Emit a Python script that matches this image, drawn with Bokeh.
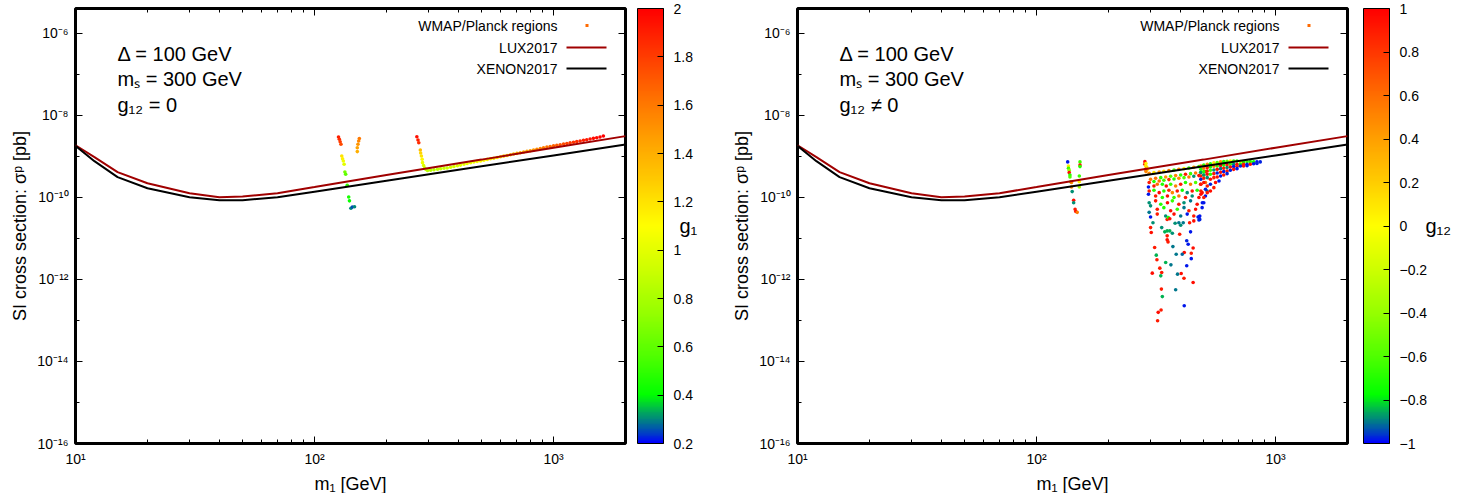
import numpy as np
from bokeh.plotting import figure
from bokeh.models import (Range1d, LogAxis, FixedTicker, CustomJSTickFormatter,
                          LinearColorMapper, ColorBar, Label, Arrow, BoxAnnotation,
                          ColumnDataSource)
from bokeh.layouts import row
from bokeh.embed import file_html
from bokeh.resources import INLINE

FONT = "Liberation Sans"

# ---------------- data ----------------
# exclusion limits
m_lim = [10, 12, 15, 20, 30, 40, 50, 70, 100, 200, 500, 1000, 2000]
lux_sigma = [1.86e-9, 9.5e-10, 4.1e-10, 2.2e-10, 1.26e-10, 1.0e-10, 1.05e-10, 1.26e-10,
             1.78e-10, 3.5e-10, 8.3e-10, 1.62e-9, 3.1e-9]
xenon_sigma = [1.8e-9, 7.6e-10, 3.1e-10, 1.66e-10, 1.0e-10, 8.5e-11, 8.5e-11, 1.0e-10,
               1.37e-10, 2.54e-10, 5.7e-10, 1.05e-9, 1.95e-9]

# left panel (g12 = 0), colour = g1
left_m = [
    126, 127, 128, 129, 130, 131, 132, 133, 134, 135, 137, 139, 140, 142, 144, 147,
    154, 153, 152, 151, 151,
    268, 271, 273, 277, 278, 280, 282, 283, 286, 289, 292,
    297, 306, 316, 327, 337, 348, 359, 371, 383, 396, 408, 422, 435, 450, 464, 479,
    495, 511, 528, 545, 562, 581, 600, 619, 639, 660, 681, 703, 726, 750, 774, 799,
    825, 852, 880, 908, 938, 968, 1000, 1032, 1066, 1101, 1137, 1173, 1212, 1251,
    1292, 1334, 1377, 1422, 1468, 1516, 1565, 1616,
]
left_sigma = [
    2.95e-9, 2.6e-9, 2.26e-9, 1.96e-9, 1.02e-9, 8.7e-10, 7.7e-10, 6.4e-10, 4.15e-10,
    3.65e-10, 1.97e-10, 1.02e-10, 8.2e-11, 5.4e-11, 5.8e-11, 5.9e-11,
    2.7e-9, 2.36e-9, 1.96e-9, 1.62e-9, 1.3e-9,
    3.0e-9, 2.5e-9, 2.14e-9, 1.42e-9, 1.2e-9, 1.02e-9, 8.45e-10, 7.0e-10, 5.97e-10,
    5.2e-10, 4.8e-10,
    4.5e-10, 4.6e-10, 4.7e-10, 4.85e-10, 4.97e-10, 5.1e-10, 5.2e-10, 5.4e-10, 5.65e-10,
    5.9e-10, 6.1e-10, 6.4e-10, 6.7e-10, 7.0e-10, 7.3e-10, 7.5e-10, 7.7e-10, 8.0e-10,
    8.4e-10, 8.7e-10, 9.0e-10, 9.35e-10, 9.7e-10, 1.01e-9, 1.05e-9, 1.09e-9, 1.14e-9,
    1.18e-9, 1.22e-9, 1.27e-9, 1.32e-9, 1.37e-9, 1.42e-9, 1.49e-9, 1.55e-9, 1.62e-9,
    1.68e-9, 1.74e-9, 1.8e-9, 1.86e-9, 1.91e-9, 1.98e-9, 2.05e-9, 2.12e-9, 2.19e-9,
    2.28e-9, 2.36e-9, 2.45e-9, 2.53e-9, 2.64e-9, 2.74e-9, 2.84e-9, 2.95e-9, 3.12e-9,
]
left_g1 = [
    1.9, 1.85, 1.8, 1.75, 1.2, 1.15, 1.05, 1.0, 0.65, 0.6, 0.5, 0.45, 0.42, 0.3, 0.25, 0.3,
    1.6, 1.55, 1.5, 1.45, 1.4,
    1.95, 1.9, 1.85, 1.35, 1.25, 1.2, 1.12, 1.05, 0.98, 0.92, 0.9,
    0.85, 0.86, 0.87, 0.88, 0.9, 0.92, 0.93, 0.95, 0.97, 0.98, 1.0, 1.02, 1.03, 1.05,
    1.07, 1.08, 1.1, 1.12, 1.14, 1.17, 1.2, 1.22, 1.25, 1.27, 1.3, 1.32, 1.35, 1.37,
    1.4, 1.42, 1.45, 1.47, 1.5, 1.53, 1.56, 1.59, 1.62, 1.65, 1.68, 1.7, 1.73, 1.75,
    1.78, 1.8, 1.83, 1.85, 1.88, 1.9, 1.92, 1.94, 1.96, 1.97, 1.99, 2.0,
]

# right panel (g12 != 0), colour = g12
right_m = [
    135, 136, 136, 137, 137, 138, 138, 139, 140, 140, 141, 143, 143, 145, 146, 148, 152, 152, 152, 151, 151, 151,
    284, 284, 286, 287, 289, 291, 286, 287,
    296, 310, 326, 341, 358, 376, 394, 414, 434, 455, 478, 501,
    300, 315, 331, 347, 364, 382, 401, 420, 441, 463, 486, 509,
    296, 310, 326, 341, 358, 376, 394, 414, 434, 455, 478, 501,
    294, 310, 320, 336, 349, 364, 382, 401, 420, 441, 463, 486, 509,
    296, 310, 326, 341, 358, 370, 388, 407, 427, 448, 470, 493, 517,
    294, 315, 336, 353, 376, 394, 420, 448, 478, 509,
    296, 315, 331, 353, 370, 394, 414, 441, 470, 501,
    300, 320, 341, 364, 388, 414, 434, 463, 493,
    296, 320, 347, 376, 401, 427, 455, 478,
    487, 501, 518, 534, 552, 570, 589, 607, 627, 647, 668, 690, 713, 735, 760, 784, 810, 836, 863,
    487, 501, 518, 534, 552, 570, 589, 607, 627, 647, 668, 690, 713, 735, 760, 784, 810, 836,
    487, 501, 518, 534, 552, 570, 589, 607, 627, 647, 668, 690, 713, 735, 760,
    487, 501, 518, 534, 552, 570, 589, 607, 627, 647, 668, 690,
    487, 501, 518, 534, 552, 570, 589, 607, 627,
    487, 501, 518, 534, 561, 580, 487, 509, 534, 552, 487, 501, 494, 518, 482, 482,
    300, 307, 300, 302, 334, 352, 356, 361, 380, 394, 401, 411, 437, 455, 474, 478, 344, 352,
    361, 370, 352, 352, 355, 397, 441, 425, 431, 312, 372, 452, 317, 319, 415, 444, 384, 407,
    444, 347, 365, 425, 328, 305, 334, 331, 389, 403, 414, 452, 333, 382, 336, 415, 332, 323, 321,
]
right_sigma = [
    7.3e-10, 5.8e-10, 5.1e-10, 4.56e-10, 4.0e-10, 3.5e-10, 3.13e-10, 2.4e-10, 2.3e-10, 1.79e-10,
    1.38e-10, 8.5e-11, 7.4e-11, 5.1e-11, 4.5e-11, 4.3e-11, 7.3e-10, 6.1e-10, 5.6e-10, 3.3e-10,
    2.4e-10, 1.79e-10,
    7.4e-10, 6.4e-10, 5.8e-10, 6.7e-10, 5.5e-10, 4.8e-10, 4.8e-10, 4.23e-10,
    3.85e-10, 4.0e-10, 4.15e-10, 4.31e-10, 4.47e-10, 4.65e-10, 4.8e-10, 5.0e-10, 5.2e-10, 5.4e-10, 5.6e-10, 5.8e-10,
    2.75e-10, 2.91e-10, 3.02e-10, 3.13e-10, 3.26e-10, 3.38e-10, 3.51e-10, 3.64e-10, 3.78e-10, 3.93e-10, 4.07e-10, 4.23e-10,
    2.29e-10, 2.42e-10, 2.5e-10, 2.6e-10, 2.7e-10, 2.8e-10, 2.91e-10, 3.02e-10, 3.13e-10, 3.26e-10, 3.38e-10, 3.51e-10,
    1.79e-10, 1.89e-10, 2.08e-10, 2.08e-10, 1.89e-10, 2.08e-10, 1.89e-10, 2.08e-10, 2.29e-10, 2.08e-10, 2.29e-10, 2.08e-10, 2.29e-10,
    1.43e-10, 1.49e-10, 1.3e-10, 1.43e-10, 1.49e-10, 1.3e-10, 1.43e-10, 1.49e-10, 1.3e-10, 1.43e-10, 1.49e-10, 1.3e-10, 1.43e-10,
    1.19e-10, 1.08e-10, 9.9e-11, 1.08e-10, 9.9e-11, 1.08e-10, 9.9e-11, 1.08e-10, 9.9e-11, 1.08e-10,
    7.4e-11, 8.2e-11, 6.8e-11, 7.4e-11, 8.2e-11, 6.8e-11, 7.4e-11, 8.2e-11, 6.8e-11, 7.4e-11,
    6.2e-11, 5.1e-11, 5.6e-11, 4.7e-11, 5.1e-11, 5.6e-11, 4.7e-11, 5.1e-11, 5.6e-11,
    4.3e-11, 3.9e-11, 3.5e-11, 3.9e-11, 3.5e-11, 3.9e-11, 3.5e-11, 3.3e-11,
    5.8e-10, 6.1e-10, 6.4e-10, 6.6e-10, 6.9e-10, 7.0e-10, 7.3e-10, 7.4e-10, 7.55e-10, 7.7e-10,
    7.7e-10, 7.7e-10, 7.4e-10, 7.3e-10, 7.4e-10, 7.4e-10, 7.3e-10, 7.3e-10, 7.3e-10,
    4.8e-10, 5.1e-10, 5.3e-10, 5.5e-10, 5.7e-10, 5.8e-10, 6.0e-10, 6.1e-10, 6.25e-10, 6.4e-10,
    6.4e-10, 6.4e-10, 6.4e-10, 6.4e-10, 6.4e-10, 6.4e-10, 6.6e-10, 6.7e-10,
    4.0e-10, 4.23e-10, 4.39e-10, 4.56e-10, 4.65e-10, 4.8e-10, 5.0e-10, 5.1e-10, 5.3e-10, 5.5e-10,
    5.6e-10, 5.7e-10, 5.8e-10, 5.8e-10, 5.9e-10,
    3.3e-10, 3.51e-10, 3.64e-10, 3.64e-10, 3.78e-10, 3.93e-10, 4.07e-10, 4.23e-10, 4.39e-10, 4.56e-10, 4.8e-10, 5.0e-10,
    2.75e-10, 2.91e-10, 3.02e-10, 2.75e-10, 3.02e-10, 3.13e-10, 3.3e-10, 3.51e-10, 3.78e-10,
    2.08e-10, 2.29e-10, 1.89e-10, 2.08e-10, 2.29e-10, 2.5e-10, 1.43e-10, 1.57e-10, 1.43e-10, 1.72e-10,
    1.19e-10, 9.9e-11, 7.4e-11, 1.3e-10, 3.5e-11, 2.9e-11,
    3.3e-11, 2.4e-11, 1.83e-11, 1.39e-11, 1.83e-11, 2.9e-11, 3.2e-11, 3.0e-11, 2.34e-11, 2.4e-11,
    2.09e-11, 2.4e-11, 2.4e-11, 2.66e-11, 3.3e-11, 2.8e-11, 1.44e-11, 1.52e-11, 1.52e-11, 1.33e-11,
    1.15e-11, 9.2e-12, 8.2e-12, 1.26e-11, 1.44e-11, 8.7e-12, 7.2e-12, 6.0e-12, 6.3e-12, 5.8e-12,
    3.9e-12, 3.0e-12, 4.5e-12, 4.35e-12, 4.1e-12, 4.1e-12, 3.2e-12, 2.58e-12, 2.26e-12, 2.14e-12,
    1.88e-12, 1.42e-12, 1.47e-12, 1.22e-12, 1.34e-12, 1.39e-12, 1.07e-12, 8.4e-13, 5.8e-13, 5.6e-13,
    3.8e-13, 2.28e-13, 1.79e-13, 1.57e-13, 9.8e-14,
]
right_g12 = [
    -0.98, 0.05, -0.65, -0.4, 0.95, -0.7, -0.6, -0.6, 0.5, 0.5, -0.88, 0.95, -0.88, 0.9, 0.95,
    0.55, -0.65, 0.95, -0.7, -0.65, 0.05, -0.35,
    0.95, 0.9, 0.1, 0.05, 0.1, 0.15, 0.9, 0.5,
    0.5, 0.1, 0.45, 0.15, 0.55, -0.6, 0.5, 0.05, -0.65, 0.4, -0.7, 0.5,
    0.55, 0.6, -0.7, 0.45, -0.6, 0.5, -0.7, 0.9, -0.65, 0.55, -0.75, 0.9,
    0.9, -0.7, 0.6, -0.65, 0.85, -0.7, 0.5, -0.6, 0.55, -0.88, 0.95, -0.7,
    -0.98, 0.9, 0.6, -0.7, 0.95, -0.65, 0.5, 0.9, -0.7, 0.55, -0.6, 0.95, 0.6,
    0.9, -0.7, 0.95, -0.7, 0.85, 0.5, 0.9, -0.75, -0.88, 0.9, -0.7, 0.95, -0.9,
    -0.98, 0.9, -0.7, 0.95, -0.65, 0.55, 0.9, -0.88, 0.95, -0.98,
    -0.88, 0.9, -0.7, 0.95, -0.65, 0.9, -0.88, -0.9, 0.95, -0.98,
    -0.88, 0.9, -0.7, 0.95, -0.65, -0.9, 0.9, 0.95, -0.98,
    -0.9, 0.9, -0.88, 0.95, -0.9, -0.98, 0.9, -0.98,
    0.5, -0.65, 0.5, -0.7, 0.1, -0.6, 0.45, -0.7, -0.55, 0.0, -0.65, -0.7, -0.1, -0.7, -0.65,
    -0.7, -0.75, -0.98, -0.97,
    -0.7, 0.55, 0.9, -0.7, 0.5, -0.65, 0.95, -0.7, 0.9, -0.65, -0.88, 0.95, -0.7, 0.9, -0.97,
    0.95, -0.98, -0.97,
    -0.88, -0.7, 0.9, -0.65, -0.88, 0.95, -0.9, 0.9, -0.88, 0.95, -0.98, 0.9, -0.97, 0.95, -0.98,
    0.9, -0.88, 0.95, -0.7, 0.9, -0.97, 0.95, -0.98, 0.9, -0.97, 0.95, -0.98,
    -0.97, 0.9, -0.88, 0.95, 0.9, 0.95, -0.98, 0.9, -0.97,
    0.9, 0.95, 0.9, -0.97, 0.95, -0.98, 0.9, -0.97, 0.95, 0.9, 0.95, 0.9, -0.98, 0.9, -0.98, -0.97,
    -0.98, -0.88, 0.9, 0.95, -0.88, 0.9, -0.7, 0.95, -0.88, -0.9, -0.88, -0.9, 0.9, 0.95, -0.98,
    -0.97, -0.85, -0.85, -0.85, -0.88, 0.9, 0.95, 0.9, 0.9, -0.98, -0.97, -0.98, 0.9, -0.9, 0.95,
    -0.85, 0.9, 0.95, 0.9, -0.9, -0.92, -0.98, -0.85, -0.9, -0.98, 0.9, 0.95, 0.9, -0.85, -0.9,
    0.95, 0.9, 0.95, 0.9, -0.9, -0.85, -0.98, 0.9, 0.95, 0.9,
]
assert len(right_m) == len(right_sigma) == len(right_g12), (len(right_m), len(right_sigma), len(right_g12))
assert len(left_m) == len(left_sigma) == len(left_g1)

# axis ticks
x_major = [10, 100, 1000]
x_minor = [20, 30, 40, 50, 60, 70, 80, 90, 200, 300, 400, 500, 600, 700, 800, 900, 2000]
y_major = [1e-16, 1e-14, 1e-12, 1e-10, 1e-8, 1e-6]
y_minor = [1e-15, 1e-13, 1e-11, 1e-9, 1e-7]
g1_ticks = [0.2, 0.4, 0.6, 0.8, 1.0, 1.2, 1.4, 1.6, 1.8, 2.0]
g12_ticks = [-1.0, -0.8, -0.6, -0.4, -0.2, 0.0, 0.2, 0.4, 0.6, 0.8, 1.0]

# ---------------- style ----------------
LUX_COLOR = "#a00000"
DOT_COLOR = "#ff6a00"


def make_palette():
    t = [0.0, 0.025, 0.05, 0.08, 0.11, 0.2, 0.3, 0.4, 0.5, 0.6, 0.7, 0.8, 0.9, 1.0]
    rgb = [(0, 0, 255), (0, 70, 190), (0, 125, 135), (0, 190, 70), (0, 255, 0),
           (80, 255, 0), (150, 255, 0), (205, 255, 0), (255, 255, 0), (255, 205, 0),
           (255, 160, 0), (255, 110, 0), (255, 55, 0), (255, 0, 0)]
    s = np.linspace(0, 1, 256)
    arr = np.array(rgb, dtype=float)
    chans = [np.interp(s, t, arr[:, k]) for k in range(3)]
    return ["#%02x%02x%02x" % (int(round(r)), int(round(g)), int(round(b)))
            for r, g, b in zip(*chans)]


PALETTE = make_palette()

LOG_FMT = """
const sup = {"-": "\u207b", "0": "\u2070", "1": "\u00b9", "2": "\u00b2", "3": "\u00b3",
             "4": "\u2074", "5": "\u2075", "6": "\u2076", "7": "\u2077", "8": "\u2078", "9": "\u2079"};
const e = Math.round(Math.log10(tick));
return "10" + String(e).split("").map(c => sup[c]).join("");
"""

CB_FMT = """
const v = Math.round(tick * 10) / 10;
return String(v).replace("-", "\u2212");
"""

BLANK_FMT = 'return " ";'


def style_axis(ax, labels=True):
    ax.axis_line_color = None
    ax.major_tick_in = 7
    ax.major_tick_out = 0
    ax.minor_tick_in = 4
    ax.minor_tick_out = 0
    ax.major_tick_line_color = "black"
    ax.minor_tick_line_color = "black"
    ax.major_tick_line_width = 1
    ax.minor_tick_line_width = 1
    if labels:
        ax.major_label_text_font = FONT
        ax.major_label_text_font_size = "14px"
        ax.major_label_text_color = "black"
        ax.major_label_standoff = 7
        ax.axis_label_text_font = FONT
        ax.axis_label_text_font_size = "18px"
        ax.axis_label_text_font_style = "normal"
        ax.axis_label_text_color = "black"
        ax.axis_label_standoff = 4
    else:
        ax.major_label_text_font_size = "1px"
        ax.major_label_text_color = None
        ax.major_label_standoff = 0


def make_panel(m, s, g, lo, hi, cticks, note, cb_label, cb_gap, title_standoff, right_border):
    p = figure(x_axis_type="log", y_axis_type="log",
               x_range=Range1d(10, 2000), y_range=Range1d(1e-16, 4e-6),
               frame_width=550, frame_height=435,
               min_border_left=75, min_border_right=right_border,
               min_border_top=8, min_border_bottom=50,
               output_backend="svg", toolbar_location=None)
    p.grid.visible = False
    p.outline_line_color = "black"
    p.outline_line_width = 3
    p.background_fill_color = "white"
    p.border_fill_color = "white"

    xt = FixedTicker(ticks=x_major, minor_ticks=x_minor)
    yt = FixedTicker(ticks=y_major, minor_ticks=y_minor)
    fmt = CustomJSTickFormatter(code=LOG_FMT)

    p.xaxis.ticker = xt
    p.yaxis.ticker = yt
    p.xaxis.formatter = fmt
    p.yaxis.formatter = fmt
    p.xaxis.axis_label = "m\u2081 [GeV]"
    p.yaxis.axis_label = "SI cross section: \u03c3\u1d56 [pb]"
    style_axis(p.xaxis[0])
    style_axis(p.yaxis[0])

    top = LogAxis(ticker=FixedTicker(ticks=x_major, minor_ticks=x_minor))
    style_axis(top, labels=False)
    p.add_layout(top, "above")

    # mirror ticks on the right; its blank labels act as the gap before the colour bar
    rgt = LogAxis(ticker=FixedTicker(ticks=y_major, minor_ticks=y_minor),
                  formatter=CustomJSTickFormatter(code=BLANK_FMT))
    style_axis(rgt, labels=True)
    rgt.major_label_text_font_size = "2px"
    rgt.major_label_standoff = cb_gap
    p.add_layout(rgt, "right")

    mapper = LinearColorMapper(palette=PALETTE, low=lo, high=hi)
    src = ColumnDataSource(dict(m=m, s=s, g=g))
    p.scatter("m", "s", source=src, marker="circle", size=3.6,
              fill_color={"field": "g", "transform": mapper}, line_color=None)

    p.line(m_lim, lux_sigma, line_color=LUX_COLOR, line_width=2)
    p.line(m_lim, xenon_sigma, line_color="black", line_width=2)

    cb = ColorBar(color_mapper=mapper, ticker=FixedTicker(ticks=cticks),
                  formatter=CustomJSTickFormatter(code=CB_FMT),
                  width=26, padding=0, margin=0,
                  label_standoff=10,
                  major_label_text_font=FONT, major_label_text_font_size="14px",
                  major_label_text_color="black",
                  major_tick_line_color="black", major_tick_in=6, major_tick_out=0,
                  minor_tick_line_color=None,
                  bar_line_color="black", bar_line_width=1,
                  background_fill_color=None, border_line_color=None)
    p.add_layout(cb, "right")

    # colour-bar title carried by an invisible axis placed after the colour bar
    ttl = LogAxis(ticker=FixedTicker(ticks=[]), axis_label=cb_label)
    ttl.axis_line_color = None
    ttl.major_tick_line_color = None
    ttl.minor_tick_line_color = None
    ttl.major_label_text_font_size = "1px"
    ttl.major_label_text_color = None
    ttl.major_label_standoff = 0
    ttl.axis_label_text_font = FONT
    ttl.axis_label_text_font_size = "20px"
    ttl.axis_label_text_font_style = "normal"
    ttl.axis_label_text_color = "black"
    ttl.axis_label_standoff = title_standoff
    try:
        ttl.axis_label_orientation = "horizontal"
    except Exception:
        pass
    p.add_layout(ttl, "right")

    # annotations
    for txt, yy in [("\u0394 = 100 GeV", 390), ("m\u209b = 300 GeV", 365), (note, 339)]:
        p.add_layout(Label(x=42, y=yy, x_units="screen", y_units="screen", text=txt,
                           text_font=FONT, text_font_size="20px", text_color="black",
                           text_baseline="alphabetic"))

    # legend (text on the left, sample on the right)
    for txt, yy in [("WMAP/Planck regions", 418), ("LUX2017", 396), ("XENON2017", 375)]:
        p.add_layout(Label(x=482, y=yy, x_units="screen", y_units="screen", text=txt,
                           text_font=FONT, text_font_size="14px", text_color="black",
                           text_align="right", text_baseline="middle"))
    p.add_layout(BoxAnnotation(left=510, right=513, bottom=416.5, top=419.5,
                               left_units="screen", right_units="screen",
                               bottom_units="screen", top_units="screen",
                               fill_color=DOT_COLOR, fill_alpha=1.0, line_color=None))
    p.add_layout(Arrow(end=None, x_start=491, y_start=396, x_end=531, y_end=396,
                       start_units="screen", end_units="screen",
                       line_color=LUX_COLOR, line_width=2))
    p.add_layout(Arrow(end=None, x_start=491, y_start=375, x_end=531, y_end=375,
                       start_units="screen", end_units="screen",
                       line_color="black", line_width=2))
    return p


p1 = make_panel(left_m, left_sigma, left_g1, 0.2, 2.0, g1_ticks,
                "g\u2081\u2082 = 0", "g\u2081", 8, -16, 97)
p2 = make_panel(right_m, right_sigma, right_g12, -1.0, 1.0, g12_ticks,
                "g\u2081\u2082 \u2260 0", "g\u2081\u2082", 12, -5, 126)

layout = row(p1, p2, spacing=0)
open("out.html", "w").write(file_html(layout, INLINE))
